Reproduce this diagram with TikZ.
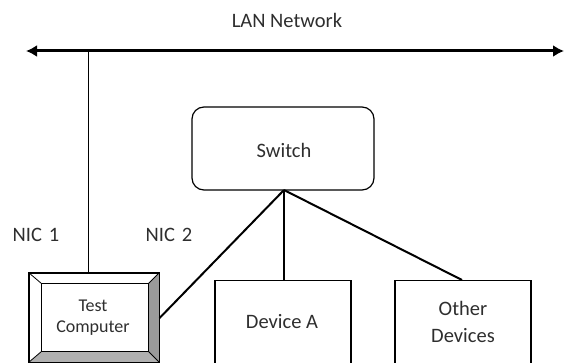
\documentclass[tikz,border=0pt]{standalone}
\usepackage{fontspec}
\setmainfont{Carlito}
\usetikzlibrary{arrows.meta,calc}
\definecolor{txt}{HTML}{2E2E2E}
\definecolor{bevR}{HTML}{9A9A9A}
\definecolor{bevB}{HTML}{B0B0B0}
\begin{document}
\begin{tikzpicture}[x=1pt,y=-1pt,
  lbl/.style={font=\fontsize{20.5}{22}\selectfont, text=txt, inner sep=0pt},
  smalllbl/.style={font=\fontsize{18}{21}\selectfont, text=txt, inner sep=0pt, align=center},
  devbox/.style={draw, line width=1.2pt, minimum width=136pt, minimum height=95pt, inner sep=0pt, anchor=north},
  link/.style={line width=2pt},
  thin/.style={line width=0.9pt}]
\useasboundingbox (0,0) rectangle (564,363);
\clip (0,0) rectangle (564,363);
% title
\node[lbl] (title) at (287,20) {LAN Network};
% LAN bus
\coordinate (lanA) at (26,51);
\coordinate (lanB) at (564,51);
\coordinate (lanT) at (88,51);
\draw[line width=3pt, {Latex[length=11pt,width=12pt]}-{Latex[length=11pt,width=12pt]}] (lanA) -- (lanB);
% switch
\node[draw, rounded corners=12pt, line width=1.2pt, minimum width=182pt, minimum height=83pt, inner sep=0pt] (sw) at (283,148.5) {};
\node[lbl] (swt) at (284,150) {Switch};
% devices
\node[devbox] (devA) at (283,280) {};
\node[lbl] (devAt) at (282,322) {Device A};
\node[devbox] (oth) at (463,280) {};
\node[lbl, align=center, font=\fontsize{20.5}{27}\selectfont] (otht) at (463,321.5) {Other\\Devices};
% test computer (bevelled box)
\node[draw, line width=1.2pt, minimum width=130pt, minimum height=89pt, inner sep=0pt] (tc) at (94,317.5) {};
\node[minimum width=106pt, minimum height=67pt, inner sep=0pt] (tci) at (95,317.5) {};
\fill[bevR] (tc.north east) -- (tc.south east) -- (tci.south east) -- (tci.north east) -- cycle;
\fill[bevB] (tc.south west) -- (tc.south east) -- (tci.south east) -- (tci.south west) -- cycle;
\draw[line width=0.8pt] (tc.north west) -- (tci.north west) (tc.north east) -- (tci.north east)
  (tc.south west) -- (tci.south west) (tc.south east) -- (tci.south east);
\draw[line width=1.2pt] (tci.north west) rectangle (tci.south east);
\draw[line width=1.2pt] (tc.north west) rectangle (tc.south east);
\node[smalllbl] (tct) at (93,317.5) {Test\\Computer};
% labels
\node[lbl] (nic1) at (36,235) {NIC\hspace{7pt}1};
\node[lbl] (nic2) at (169,235) {NIC\hspace{7pt}2};
% connectors
\coordinate (swb) at (284,190);
\draw[thin] (lanT) -- (tc.north -| lanT);
\draw[link] (swb) -- (tc.east |- 0,318);
\draw[link] (swb) -- (devA.north -| swb);
\draw[link] (swb) -- (oth.north -| 462,0);
\end{tikzpicture}
\end{document}
